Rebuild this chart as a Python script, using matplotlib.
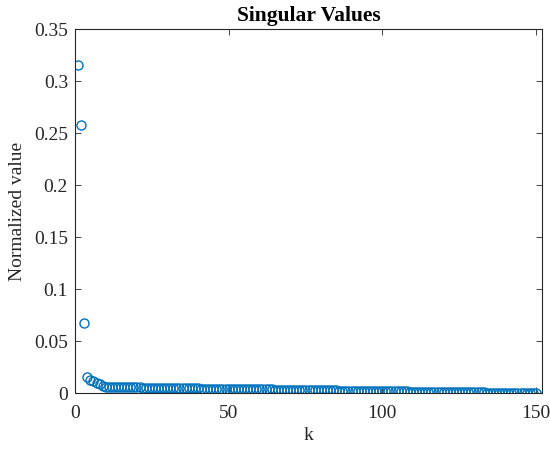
import numpy as np
import matplotlib.pyplot as plt

plt.rcParams['font.family'] = ['Liberation Serif', 'DejaVu Serif']
plt.rcParams['mathtext.fontset'] = 'stix'

# Normalized singular values, k = 1..150
sv_head = [0.316, 0.258, 0.067, 0.0150, 0.0128, 0.0115, 0.0100, 0.0085, 0.0068, 0.0060]
sv_tail = [
    0.0058, 0.0057, 0.0057, 0.0056, 0.0056, 0.0055, 0.0055, 0.0054, 0.0054, 0.0053,
    0.0053, 0.0052, 0.0052, 0.0051, 0.0051, 0.0050, 0.0050, 0.0049, 0.0049, 0.0048,
    0.0048, 0.0047, 0.0047, 0.0046, 0.0046, 0.0046, 0.0045, 0.0045, 0.0044, 0.0044,
    0.0043, 0.0043, 0.0043, 0.0042, 0.0042, 0.0041, 0.0041, 0.0040, 0.0040, 0.0040,
    0.0039, 0.0039, 0.0038, 0.0038, 0.0037, 0.0037, 0.0037, 0.0036, 0.0036, 0.0035,
    0.0035, 0.0034, 0.0034, 0.0034, 0.0033, 0.0033, 0.0032, 0.0032, 0.0031, 0.0031,
    0.0031, 0.0030, 0.0030, 0.0029, 0.0029, 0.0028, 0.0028, 0.0028, 0.0027, 0.0027,
    0.0026, 0.0026, 0.0025, 0.0025, 0.0025, 0.0024, 0.0024, 0.0023, 0.0023, 0.0022,
    0.0022, 0.0022, 0.0021, 0.0021, 0.0020, 0.0020, 0.0019, 0.0019, 0.0019, 0.0018,
    0.0018, 0.0017, 0.0017, 0.0016, 0.0016, 0.0016, 0.0015, 0.0015, 0.0014, 0.0014,
    0.0013, 0.0013, 0.0013, 0.0012, 0.0012, 0.0011, 0.0011, 0.0010, 0.0010, 0.0010,
    0.0009, 0.0009, 0.0008, 0.0008, 0.0008, 0.0007, 0.0007, 0.0006, 0.0006, 0.0006,
    0.0005, 0.0005, 0.0005, 0.0004, 0.0004, 0.0004, 0.0004, 0.0003, 0.0003, 0.0003,
    0.0003, 0.0003, 0.0002, 0.0002, 0.0002, 0.0002, 0.0002, 0.0001, 0.0001, 0.0001,
]
sv = np.array(sv_head + sv_tail)
k = np.arange(1, len(sv) + 1)

x_ticks = [0, 50, 100, 150]
y_ticks = [0, 0.05, 0.1, 0.15, 0.2, 0.25, 0.3, 0.35]
y_labels = ['0', '0.05', '0.1', '0.15', '0.2', '0.25', '0.3', '0.35']

fig = plt.figure(figsize=(5.5, 4.51), dpi=100)
ax = fig.add_axes([0.1364, 0.1286, 0.8491, 0.8064])

ax.plot(k, sv, 'o', mfc='none', mec='#0072BD', ms=6.5, mew=1.0)

ax.set_xlim(0, 152)
ax.set_ylim(0, 0.35)
ax.set_xticks(x_ticks)
ax.set_yticks(y_ticks)
ax.set_yticklabels(y_labels)
ax.tick_params(direction='in', top=True, right=True, labelsize=14, length=4,
               width=0.6, colors='#262626')
ax.tick_params(axis='x', pad=8.5)
ax.tick_params(axis='y', pad=5)
for s in ax.spines.values():
    s.set_linewidth(0.8)
    s.set_color('#262626')

ax.set_xlabel('k', fontsize=14, color='#262626', labelpad=4)
ax.set_ylabel('Normalized value', fontsize=14, color='#262626', labelpad=6)
ax.set_title('Singular Values', fontsize=15.5, fontweight='bold', pad=6)

fig.savefig('out.png', dpi=100)
